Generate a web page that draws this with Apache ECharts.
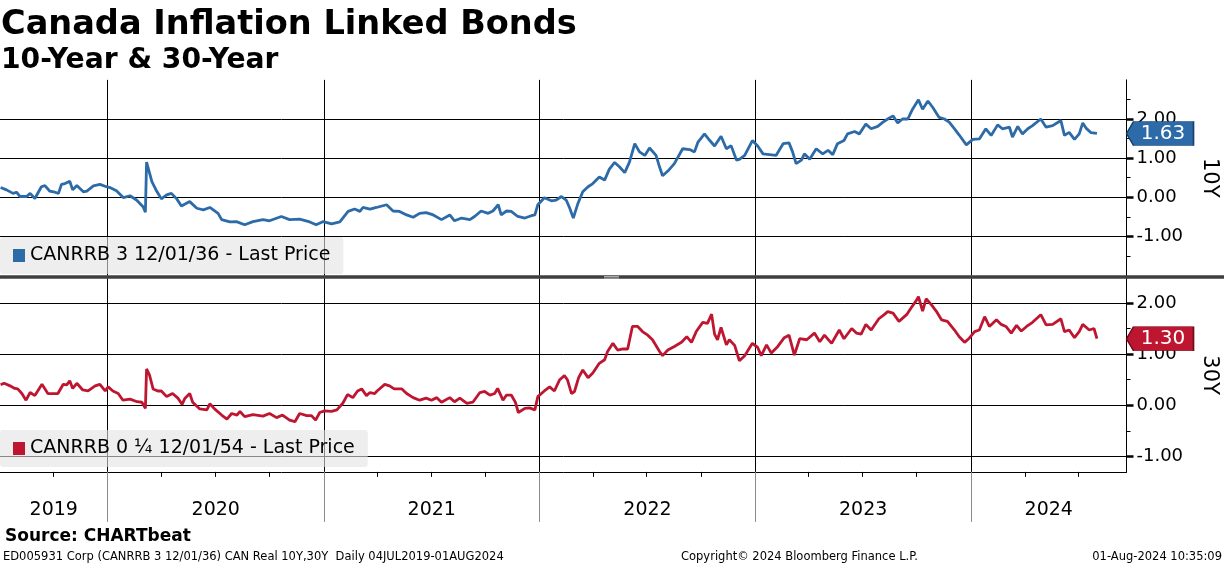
<!DOCTYPE html>
<html><head><meta charset="utf-8">
<script src="https://cdn.jsdelivr.net/npm/echarts@6/dist/echarts.min.js"></script>
<style>html,body{margin:0;padding:0;background:#fff}#c{width:1224px;height:566px}</style>
</head><body><div id="c"></div>
<script>
const name10 = 'CANRRB 3 12/01/36 - Last Price';
const name30 = 'CANRRB 0 \u00BC 12/01/54 - Last Price';

const dates10 = ['2019-07-04','2019-07-14','2019-07-25','2019-07-31','2019-08-06','2019-08-17','2019-08-23','2019-08-31','2019-09-03','2019-09-11','2019-09-17','2019-09-25','2019-10-04','2019-10-10','2019-10-15','2019-10-21','2019-10-29','2019-11-03','2019-11-10','2019-11-21','2019-11-27','2019-12-08','2019-12-19','2019-12-30',
'2020-01-05','2020-01-16','2020-01-28','2020-02-08','2020-02-19','2020-03-01','2020-03-05','2020-03-07','2020-03-16','2020-03-24','2020-04-01','2020-04-10','2020-04-18','2020-04-27','2020-05-05','2020-05-19','2020-05-31','2020-06-11','2020-06-22','2020-07-06','2020-07-12','2020-07-26','2020-08-06','2020-08-20','2020-09-03','2020-09-20','2020-10-01','2020-10-21','2020-11-04','2020-11-21','2020-12-08','2020-12-19','2020-12-31',
'2021-01-14','2021-01-28','2021-02-11','2021-02-22','2021-03-03','2021-03-08','2021-03-20','2021-03-31','2021-04-17','2021-04-28','2021-05-09','2021-05-21','2021-06-01','2021-06-12','2021-06-23','2021-07-05','2021-07-19','2021-08-02','2021-08-10','2021-08-22','2021-09-05','2021-09-13','2021-09-24','2021-10-06','2021-10-14','2021-10-23','2021-10-28','2021-11-06','2021-11-14','2021-11-25','2021-12-07','2021-12-18','2021-12-24','2021-12-29',
'2022-01-09','2022-01-21','2022-01-29','2022-02-07','2022-02-15','2022-02-21','2022-02-27','2022-03-07','2022-03-15','2022-03-24','2022-04-01','2022-04-12','2022-04-21','2022-04-29','2022-05-08','2022-05-16','2022-05-25','2022-06-02','2022-06-11','2022-06-19','2022-06-28','2022-07-06','2022-07-17','2022-07-22','2022-07-28','2022-08-06','2022-08-17','2022-08-31','2022-09-12','2022-09-20','2022-09-26','2022-10-07','2022-10-16','2022-10-24','2022-11-04','2022-11-13','2022-11-21','2022-11-30','2022-12-05','2022-12-14','2022-12-27',
'2023-01-05','2023-01-14','2023-01-25','2023-02-05','2023-02-17','2023-02-27','2023-03-05','2023-03-11','2023-03-20','2023-03-25','2023-04-03','2023-04-14','2023-04-25','2023-05-04','2023-05-12','2023-05-20','2023-05-31','2023-06-06','2023-06-18','2023-06-26','2023-07-07','2023-07-16','2023-07-27','2023-08-05','2023-08-13','2023-08-22','2023-08-30','2023-09-07','2023-09-16','2023-09-24','2023-10-04','2023-10-11','2023-10-20','2023-10-28','2023-11-08','2023-11-17','2023-11-25','2023-12-04','2023-12-12','2023-12-24',
'2024-01-04','2024-01-15','2024-01-26','2024-02-04','2024-02-15','2024-02-23','2024-03-06','2024-03-11','2024-03-20','2024-03-28','2024-04-06','2024-04-14','2024-04-28','2024-05-07','2024-05-18','2024-06-01','2024-06-07','2024-06-15','2024-06-24','2024-07-02','2024-07-08','2024-07-14','2024-07-22','2024-08-01'];
const values10 = [0.25,0.19,0.10,0.13,0.02,0.02,0.10,-0.03,-0.04,0.27,0.30,0.16,0.13,0.10,0.33,0.35,0.41,0.19,0.30,0.14,0.16,0.29,0.33,0.27,
0.25,0.17,-0.01,0.04,-0.07,-0.24,-0.38,0.90,0.40,0.16,-0.04,0.06,0.10,-0.04,-0.22,-0.11,-0.28,-0.32,-0.26,-0.41,-0.57,-0.63,-0.62,-0.70,-0.62,-0.57,-0.60,-0.49,-0.57,-0.56,-0.63,-0.70,-0.62,
-0.68,-0.63,-0.36,-0.30,-0.36,-0.26,-0.30,-0.26,-0.19,-0.35,-0.36,-0.45,-0.51,-0.41,-0.39,-0.45,-0.57,-0.45,-0.60,-0.53,-0.57,-0.49,-0.35,-0.41,-0.35,-0.19,-0.45,-0.35,-0.36,-0.49,-0.53,-0.47,-0.45,-0.19,
-0.01,-0.09,-0.07,0.02,-0.07,-0.28,-0.53,-0.15,0.14,0.27,0.35,0.52,0.44,0.72,0.89,0.78,0.63,0.90,1.37,1.16,1.07,1.26,1.07,0.82,0.55,0.67,0.86,1.24,1.22,1.16,1.41,1.62,1.45,1.31,1.56,1.24,1.32,0.95,0.97,1.07,1.45,
1.31,1.11,1.09,1.07,1.37,1.39,1.16,0.86,0.95,1.11,0.97,1.24,1.11,1.20,1.09,1.37,1.45,1.62,1.68,1.62,1.87,1.75,1.81,1.92,2.00,2.08,1.90,2.00,2.00,2.25,2.49,2.25,2.46,2.30,2.04,2.00,1.92,1.75,1.59,1.34,
1.48,1.49,1.75,1.58,1.85,1.75,1.79,1.54,1.81,1.62,1.75,1.83,2.00,1.79,1.83,1.96,1.58,1.66,1.48,1.62,1.90,1.76,1.65,1.63];

const dates30 = ['2019-07-04','2019-07-10','2019-07-20','2019-07-28','2019-08-02','2019-08-09','2019-08-16','2019-08-23','2019-08-31','2019-09-12','2019-09-22','2019-09-30','2019-10-09','2019-10-18','2019-10-24','2019-10-29','2019-11-03','2019-11-10','2019-11-20','2019-11-29','2019-12-11','2019-12-19','2019-12-28',
'2020-01-02','2020-01-10','2020-01-19','2020-01-27','2020-02-08','2020-02-20','2020-02-28','2020-03-05','2020-03-07','2020-03-12','2020-03-18','2020-03-26','2020-04-01','2020-04-10','2020-04-20','2020-04-29','2020-05-06','2020-05-11','2020-05-19','2020-05-24','2020-06-05','2020-06-17','2020-06-22','2020-06-30','2020-07-12','2020-07-21','2020-07-29','2020-08-07','2020-08-12','2020-08-20','2020-09-03','2020-09-20','2020-10-01','2020-10-13','2020-10-23','2020-11-04','2020-11-13','2020-11-21','2020-12-03','2020-12-11','2020-12-18','2020-12-25',
'2021-01-02','2021-01-14','2021-01-23','2021-02-02','2021-02-10','2021-02-19','2021-02-27','2021-03-06','2021-03-14','2021-03-20','2021-03-28','2021-04-01','2021-04-14','2021-04-22','2021-04-30','2021-05-13','2021-05-21','2021-06-01','2021-06-12','2021-06-23','2021-07-02','2021-07-11','2021-07-19','2021-08-02','2021-08-10','2021-08-19','2021-08-31','2021-09-10','2021-09-22','2021-09-30','2021-10-09','2021-10-17','2021-10-22','2021-10-31','2021-11-06','2021-11-14','2021-11-21','2021-11-26','2021-12-07','2021-12-15','2021-12-24','2021-12-29',
'2022-01-09','2022-01-18','2022-01-26','2022-02-04','2022-02-12','2022-02-17','2022-02-24','2022-03-01','2022-03-08','2022-03-15','2022-03-24','2022-04-01','2022-04-12','2022-04-21','2022-04-26','2022-05-05','2022-05-13','2022-05-22','2022-05-30','2022-06-07','2022-06-16','2022-06-24','2022-07-03','2022-07-11','2022-07-23','2022-07-28','2022-08-06','2022-08-17','2022-08-29','2022-09-07','2022-09-15','2022-09-23','2022-10-04','2022-10-12','2022-10-19','2022-10-24','2022-10-29','2022-11-04','2022-11-13','2022-11-18','2022-11-27','2022-12-05','2022-12-14','2022-12-27',
'2023-01-05','2023-01-11','2023-01-20','2023-01-28','2023-02-08','2023-02-19','2023-02-27','2023-03-08','2023-03-17','2023-03-29','2023-04-11','2023-04-20','2023-04-28','2023-05-10','2023-05-23','2023-05-31','2023-06-13','2023-06-21','2023-06-29','2023-07-07','2023-07-16','2023-07-29','2023-08-07','2023-08-13','2023-08-22','2023-09-01','2023-09-14','2023-09-22','2023-09-30','2023-10-04','2023-10-11','2023-10-17','2023-10-26','2023-11-03','2023-11-12','2023-11-22','2023-12-04','2023-12-12','2023-12-21','2023-12-29',
'2024-01-07','2024-01-15','2024-01-24','2024-02-01','2024-02-13','2024-02-21','2024-02-29','2024-03-09','2024-03-18','2024-03-26','2024-04-04','2024-04-14','2024-04-28','2024-05-07','2024-05-18','2024-06-01','2024-06-07','2024-06-15','2024-06-24','2024-07-02','2024-07-08','2024-07-19','2024-07-27','2024-08-01'];
const values30 = [0.40,0.43,0.38,0.33,0.32,0.23,0.10,0.25,0.19,0.41,0.23,0.23,0.23,0.41,0.40,0.48,0.33,0.43,0.30,0.28,0.38,0.41,0.28,
0.36,0.28,0.23,0.10,0.12,0.07,0.06,-0.06,0.71,0.59,0.32,0.28,0.28,0.17,0.23,0.14,0.02,0.14,0.23,0.06,-0.07,-0.09,0.03,-0.07,-0.19,-0.27,-0.16,-0.19,-0.12,-0.22,-0.18,-0.21,-0.16,-0.24,-0.19,-0.29,-0.32,-0.16,-0.20,-0.20,-0.29,-0.14,
-0.11,-0.12,-0.09,0.04,0.21,0.15,0.28,0.32,0.19,0.25,0.23,0.28,0.41,0.38,0.32,0.32,0.23,0.15,0.10,0.14,0.10,0.15,0.06,0.15,0.07,0.14,0.04,0.06,0.25,0.27,0.20,0.23,0.33,0.10,0.20,0.20,0.06,-0.14,-0.06,-0.05,-0.09,0.17,
0.28,0.36,0.28,0.50,0.58,0.50,0.23,0.27,0.54,0.69,0.54,0.63,0.82,0.89,1.05,1.21,1.08,1.10,1.10,1.54,1.54,1.44,1.37,1.28,1.05,0.97,1.08,1.15,1.23,1.34,1.23,1.44,1.62,1.60,1.78,1.39,1.28,1.52,1.18,1.28,1.17,0.87,0.97,1.21,
1.13,0.97,1.18,1.02,1.15,1.32,1.37,0.98,1.30,1.28,1.41,1.24,1.37,1.21,1.47,1.30,1.50,1.41,1.39,1.58,1.47,1.69,1.77,1.83,1.80,1.64,1.77,1.91,2.04,2.12,1.84,2.08,1.96,1.84,1.67,1.64,1.47,1.34,1.23,1.31,
1.44,1.47,1.73,1.54,1.67,1.58,1.54,1.41,1.56,1.45,1.54,1.62,1.77,1.57,1.58,1.69,1.44,1.47,1.32,1.44,1.58,1.47,1.50,1.30];

const yearStarts = ['2020-01-01','2021-01-01','2022-01-01','2023-01-01','2024-01-01'];
const yearLabels = ['2019','2020','2021','2022','2023','2024'];
const quarterTicks = ['2019-10-01','2020-04-01','2020-07-01','2020-10-01','2021-04-01','2021-07-01','2021-10-01','2022-04-01','2022-07-01','2022-10-01','2023-04-01','2023-07-01','2023-10-01','2024-04-01','2024-07-01'];
const axisMin = '2019-07-03';
const axisMax = '2024-09-20';
const topMajor = [-1, 0, 1, 2];
const topMinor = [-1.5, -0.5, 0.5, 1.5, 2.5];
const botMajor = [-1, 0, 1, 2];
const botMinor = [-0.5, 0.5, 1.5];

const FONT = '"DejaVu Sans", Verdana, sans-serif';
const BLUE = '#2C6BA8', RED = '#BE1631';

function ts(s) { const p = s.split('-').map(Number); return Date.UTC(p[0], p[1] - 1, p[2]); }
const xMin = ts(axisMin), xMax = ts(axisMax);
const yearTs = yearStarts.map(ts);
const labelCenters = yearLabels.map((y, i) => {
  const a = i === 0 ? xMin : yearTs[i - 1];
  const b = i === yearLabels.length - 1 ? xMax : yearTs[i];
  return (a + b) / 2;
});
const last10 = values10[values10.length - 1];
const last30 = values30[values30.length - 1];

const gridTop = { left: 0, right: 97.5, top: 79.85, height: 195.75, outerBoundsMode: 'none' };
const gridBot = { left: 0, right: 97.5, top: 278.3, height: 193.6, outerBoundsMode: 'none' };

function yearAxis(gridIndex, withLabels) {
  return {
    type: 'value', scale: true, gridIndex, min: xMin, max: xMax, position: 'bottom',
    axisLine: { show: withLabels, onZero: false, lineStyle: { color: '#000', width: 1 } },
    axisTick: { show: withLabels, customValues: yearTs, length: 50, lineStyle: { color: '#8a8a8a', width: 1 } },
    splitLine: { show: true, lineStyle: { color: '#000', width: 1 } },
    axisLabel: withLabels ? {
      show: true, customValues: labelCenters, margin: 29, color: '#000', fontSize: 19, fontFamily: FONT,
      formatter: v => { let best = 0; labelCenters.forEach((c, i) => { if (Math.abs(c - v) < Math.abs(labelCenters[best] - v)) best = i; }); return yearLabels[best]; }
    } : { show: false }
  };
}
function quarterAxis(gridIndex) {
  return {
    type: 'value', scale: true, gridIndex, min: xMin, max: xMax, position: 'bottom',
    axisLine: { show: false, onZero: false },
    axisTick: { show: true, customValues: quarterTicks.map(ts), length: 5, lineStyle: { color: '#000', width: 1 } },
    splitLine: { show: false },
    axisLabel: { show: false }
  };
}
function majorY(gridIndex, min, max, vals, name) {
  return {
    type: 'value', gridIndex, min, max, position: 'right',
    axisLine: { show: true, onZero: false, lineStyle: { color: '#000', width: 1 } },
    axisTick: { show: true, customValues: vals, length: 7, lineStyle: { color: '#000', width: 2.5 } },
    splitLine: { show: true, lineStyle: { color: '#000', width: 1 } },
    axisLabel: { show: true, customValues: vals, margin: 10, color: '#000', fontSize: 18, fontFamily: FONT, formatter: v => Number(v).toFixed(2) },
    name, nameLocation: 'middle', nameRotate: -90, nameGap: 72,
    nameTextStyle: { color: '#000', fontSize: 21, fontFamily: FONT }
  };
}
function minorY(gridIndex, min, max, vals) {
  return {
    type: 'value', gridIndex, min, max, position: 'right',
    axisLine: { show: false, onZero: false },
    axisTick: { show: true, customValues: vals, length: 4, lineStyle: { color: '#000', width: 1 } },
    splitLine: { show: false },
    axisLabel: { show: false }
  };
}
function tag(color, border, val) {
  return {
    silent: true, animation: false,
    symbol: 'path://M0,12L7,0L67,0L67,24L7,24Z',
    symbolSize: [67, 24], symbolOffset: [33.5, 0], symbolKeepAspect: false,
    itemStyle: { color, borderColor: border, borderWidth: 1 },
    label: { show: true, position: 'inside', color: '#fff', fontSize: 20, fontFamily: FONT, offset: [3, 0], formatter: () => val.toFixed(2) },
    data: [{ coord: [xMax, val] }]
  };
}
const legendBase = {
  left: 0, orient: 'horizontal', icon: 'rect', itemWidth: 12, itemHeight: 13,
  padding: [9, 13, 9, 13], backgroundColor: 'rgba(226,226,226,0.6)', borderRadius: 3,
  selectedMode: false, textStyle: { fontSize: 19, color: '#000', fontFamily: FONT }
};
const txt = (text, x, y, size, weight, align) => ({
  type: 'text', x, y, silent: true,
  style: { text, fill: '#000', fontSize: size, fontWeight: weight || 'normal', fontFamily: FONT, align: align || 'left', verticalAlign: 'middle' }
});

const chart = echarts.init(document.getElementById('c'), null, { renderer: 'canvas' });
chart.setOption({
  animation: false,
  backgroundColor: '#fff',
  tooltip: { show: false },
  grid: [gridTop, gridBot],
  xAxis: [yearAxis(0, false), yearAxis(1, true), quarterAxis(1)],
  yAxis: [majorY(0, -2, 3, topMajor, '10Y'), minorY(0, -2, 3, topMinor), majorY(1, -1.3, 2.48, botMajor, '30Y'), minorY(1, -1.3, 2.48, botMinor)],
  legend: [
    Object.assign({}, legendBase, { top: 237, data: [name10] }),
    Object.assign({}, legendBase, { top: 430, data: [name30] })
  ],
  series: [
    { name: name10, type: 'line', xAxisIndex: 0, yAxisIndex: 0, showSymbol: false, symbol: 'none', color: BLUE,
      lineStyle: { color: BLUE, width: 2.8 }, data: dates10.map((d, i) => [ts(d), values10[i]]), markPoint: tag(BLUE, '#17406a', last10) },
    { name: name30, type: 'line', xAxisIndex: 1, yAxisIndex: 2, showSymbol: false, symbol: 'none', color: RED,
      lineStyle: { color: RED, width: 2.8 }, data: dates30.map((d, i) => [ts(d), values30[i]]), markPoint: tag(RED, '#6e0b1a', last30) }
  ],
  graphic: [
    { type: 'rect', silent: true, shape: { x: 0, y: 275.3, width: 1224, height: 3.4 }, style: { fill: '#3f3f3f' }, z: 100 },
    { type: 'rect', silent: true, shape: { x: 604, y: 276.2, width: 15, height: 0.8 }, style: { fill: '#c8c8c8' }, z: 101 },
    { type: 'rect', silent: true, shape: { x: 604, y: 277.6, width: 15, height: 0.8 }, style: { fill: '#c8c8c8' }, z: 101 },
    txt('Canada Inflation Linked Bonds', 1, 25.5, 33.6, 'bold'),
    txt('10-Year & 30-Year', 1, 60.5, 28.2, 'bold'),
    txt('Source: CHARTbeat', 5, 537, 17, 'bold'),
    txt('ED005931 Corp (CANRRB 3 12/01/36) CAN Real 10Y,30Y  Daily 04JUL2019-01AUG2024', 3, 557, 11.5),
    txt('Copyright\u00A9 2024 Bloomberg Finance L.P.', 681, 557, 11.5),
    txt('01-Aug-2024 10:35:09', 1222, 557, 11.5, 'normal', 'right')
  ]
});
</script>
</body></html>
